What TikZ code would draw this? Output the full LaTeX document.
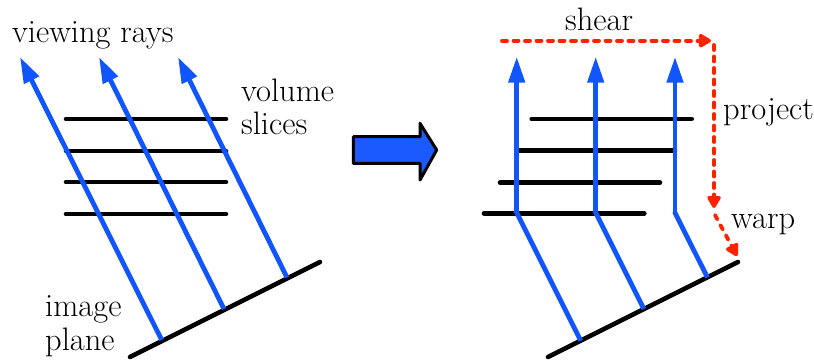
\documentclass[tikz,border=0pt]{standalone}
\usetikzlibrary{arrows.meta}
\definecolor{rayblue}{RGB}{17,85,255}
\definecolor{boxblue}{RGB}{26,90,255}
\definecolor{dashred}{RGB}{255,34,0}
\tikzset{
  ray/.style={draw=rayblue, line width=4.8pt, -{Triangle[length=26pt,width=16pt]}},
  raynotip/.style={draw=rayblue, line width=4.8pt, line join=round},
  slice/.style={draw=black, line width=4.6pt, line cap=round},
  plane/.style={draw=black, line width=4.6pt, line cap=round},
  redarrow/.style={draw=dashred, line width=3.8pt, line cap=round, dash pattern=on 5pt off 6.5pt, -{Triangle[length=14pt,width=15pt,round]}},
  lbl/.style={inner sep=0pt, anchor=base west, font=\fontsize{32.5}{36}\selectfont},
}
\begin{document}
\begin{tikzpicture}[x=1pt,y=-1pt]
\useasboundingbox (0,0) rectangle (814,360);
% ---------- left panel ----------
\coordinate (LP1) at (130,357);
\coordinate (LP2) at (320,262);
\draw[plane] (LP1) -- (LP2);
\foreach \i/\y in {1/119,2/151,3/182,4/214}{
  \coordinate (LS\i a) at (66,\y);
  \coordinate (LS\i b) at (226,\y);
  \draw[slice] (LS\i a) -- (LS\i b);
}
\coordinate (LR1s) at (161.7,340);
\coordinate (LR1e) at (20,57);
\coordinate (LR2s) at (224,309);
\coordinate (LR2e) at (99,57);
\coordinate (LR3s) at (287,277.5);
\coordinate (LR3e) at (178,57);
\draw[ray] (LR1s) -- (LR1e);
\draw[ray] (LR2s) -- (LR2e);
\draw[ray] (LR3s) -- (LR3e);
\node[lbl] (viewing) at (12,42) {viewing rays};
\node[lbl] (volume) at (241,101) {volume};
\node[lbl] (slices) at (241,134) {slices};
\node[lbl] (image) at (45,316) {image};
\node[lbl] (planelbl) at (45,350) {plane};
% ---------- middle block arrow ----------
\draw[fill=boxblue, draw=black, line width=3pt, line join=round]
  (353.3,136.7) -- (420,136.7) -- (420,123.3) -- (436.7,150) -- (420,180)
  -- (420,163.3) -- (353.3,163.3) -- cycle;
% ---------- right panel ----------
\coordinate (RP1) at (548,357);
\coordinate (RP2) at (738,262);
\draw[plane] (RP1) -- (RP2);
\draw[slice] (531.7,119) coordinate (RS1a) -- (691.7,119) coordinate (RS1b);
\draw[slice] (516.7,150.7) coordinate (RS2a) -- (675,150.7) coordinate (RS2b);
\draw[slice] (500,182.7) coordinate (RS3a) -- (660,182.7) coordinate (RS3b);
\draw[slice] (484,213.3) coordinate (RS4a) -- (644.3,213.3) coordinate (RS4b);
\coordinate (RR1s) at (580.7,340.7);
\coordinate (RR1b) at (516.7,212.7);
\coordinate (RR1e) at (516.7,56.7);
\coordinate (RR2s) at (643.9,309);
\coordinate (RR2b) at (595.7,212.7);
\coordinate (RR2e) at (595.7,56.7);
\coordinate (RR3s) at (707.4,277.4);
\coordinate (RR3b) at (675,212.7);
\coordinate (RR3e) at (675,56.7);
\draw[raynotip] (RR1s) -- (RR1b) -- ([yshift=-1pt]RR1b);
\draw[ray] (RR1b) -- (RR1e);
\draw[raynotip] (RR2s) -- (RR2b) -- ([yshift=-1pt]RR2b);
\draw[ray] (RR2b) -- (RR2e);
\draw[raynotip] (RR3s) -- (RR3b) -- ([yshift=-1pt]RR3b);
\draw[ray] (RR3b) -- (RR3e);
% red dashed arrows
\coordinate (S1) at (502,40.7);
\coordinate (S2) at (711,40.7);
\coordinate (P1) at (714,45);
\coordinate (P2) at (714,208);
\coordinate (W1) at (715,215);
\coordinate (W2) at (737,256);
\draw[redarrow] (S1) -- (S2);
\draw[redarrow] (P1) -- (P2);
\draw[redarrow] (W1) -- (W2);
\node[lbl] (shear) at (565,30) {shear};
\node[lbl] (project) at (723,119) {project};
\node[lbl] (warp) at (731,228) {warp};
\end{tikzpicture}
\end{document}
